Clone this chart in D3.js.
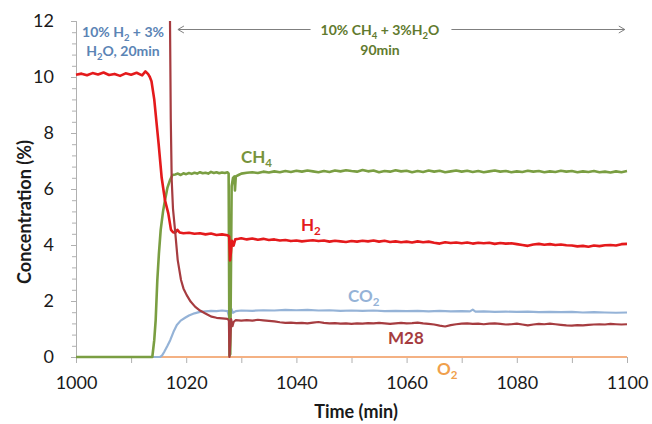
<!DOCTYPE html>
<html>
<head>
<meta charset="utf-8">
<script src="https://cdn.jsdelivr.net/npm/d3@7"></script>
<style>
  html, body { margin: 0; padding: 0; background: #fff; }
  svg { display: block; font-family: Lato, "Open Sans", sans-serif; }
</style>
</head>
<body>
<svg id="chart" width="652" height="424"></svg>
<script>
// ---------- data (time in min, concentration in %) ----------
const xTickValues = [1000, 1010, 1020, 1030, 1040, 1050, 1060, 1070, 1080, 1090, 1100];
const xTickLabels = ["1000", "", "1020", "", "1040", "", "1060", "", "1080", "", "1100"];
const yTickValues = [0, 2, 4, 6, 8, 10, 12];
const yTickLabels = ["0", "2", "4", "6", "8", "10", "12"];

const seriesH2 = [[1000,10.08],[1001,10.12],[1002,10.06],[1003,10.14],[1004,10.09],[1005,10.16],[1006,10.07],[1007,10.11],[1008,10.04],[1009,10.13],[1010,10.08],[1011,10.15],[1012,10.06],[1012.6,10.2],[1013.1,10.1],[1013.4,10.0],[1013.7,9.85],[1014.2,9.2],[1014.6,8.4],[1015,7.6],[1015.55,6.4],[1016.15,5.6],[1016.75,5.13],[1017.24,4.54],[1017.6,4.46],[1018,4.44],[1018.4,4.54],[1018.8,4.45],[1019.5,4.42],[1020.5,4.44],[1021.5,4.4],[1022.5,4.42],[1023.5,4.38],[1024.5,4.41],[1025.5,4.36],[1026.5,4.38],[1027.5,4.35],[1027.8,4.3],[1027.95,3.45],[1028.1,3.7],[1028.3,4.15],[1028.6,3.98],[1028.9,4.2],[1029.5,4.22],[1030,4.24],[1031,4.2],[1032,4.23],[1033,4.19],[1034,4.22],[1035,4.18],[1036,4.2],[1037,4.16],[1038,4.18],[1039,4.14],[1040,4.16],[1041,4.13],[1042,4.15],[1043,4.17],[1044,4.14],[1045,4.16],[1046,4.12],[1047,4.15],[1048,4.13],[1049,4.11],[1050,4.14],[1051,4.12],[1052,4.15],[1053,4.13],[1054,4.16],[1055,4.12],[1056,4.15],[1057,4.11],[1058,4.13],[1059,4.1],[1060,4.12],[1061,4.09],[1062,4.13],[1063,4.1],[1064,4.12],[1065,4.08],[1066,4.05],[1067,4.1],[1068,4.07],[1069,4.09],[1070,4.06],[1071,4.09],[1072,4.05],[1073,4.08],[1074,4.06],[1075,4.08],[1076,4.04],[1077,4.07],[1078,4.05],[1079,4.06],[1080,4.03],[1081,4.0],[1082,3.97],[1083,4.02],[1084,4.04],[1085,4.01],[1086,4.03],[1087,4.0],[1088,4.02],[1089,3.99],[1090,3.98],[1091,3.95],[1092,3.97],[1093,3.94],[1094,3.98],[1095,3.96],[1096,3.99],[1097,4.0],[1098,3.98],[1099,4.03],[1100,4.04]];

const seriesCH4 = [[1000,0],[1013.85,0],[1014.2,0.6],[1014.46,1.32],[1014.76,2.75],[1015.05,3.7],[1015.37,4.54],[1015.8,5.2],[1016.15,5.6],[1016.6,6.05],[1017.06,6.32],[1017.5,6.5],[1018,6.52],[1018.5,6.55],[1019,6.5],[1019.5,6.56],[1020,6.53],[1020.5,6.57],[1021,6.54],[1021.5,6.58],[1022,6.55],[1022.5,6.6],[1023,6.56],[1023.5,6.58],[1024,6.55],[1024.5,6.61],[1025,6.57],[1025.5,6.6],[1026,6.56],[1026.5,6.59],[1027,6.57],[1027.5,6.6],[1027.7,6.55],[1027.85,0.05],[1028.0,0.1],[1028.25,6.1],[1028.5,6.4],[1028.75,6.45],[1028.85,5.95],[1029.0,6.45],[1029.5,6.5],[1030,6.55],[1031,6.58],[1032,6.6],[1033,6.57],[1034,6.62],[1035,6.59],[1036,6.63],[1037,6.6],[1038,6.64],[1039,6.61],[1040,6.65],[1041,6.62],[1042,6.66],[1043,6.63],[1044,6.6],[1045,6.64],[1046,6.61],[1047,6.66],[1048,6.63],[1049,6.67],[1050,6.64],[1051,6.62],[1052,6.68],[1053,6.63],[1054,6.66],[1055,6.6],[1056,6.64],[1057,6.62],[1058,6.67],[1059,6.63],[1060,6.65],[1061,6.6],[1062,6.64],[1063,6.61],[1064,6.66],[1065,6.62],[1066,6.65],[1067,6.6],[1068,6.63],[1069,6.66],[1070,6.62],[1071,6.65],[1072,6.61],[1073,6.64],[1074,6.6],[1075,6.63],[1076,6.66],[1077,6.62],[1078,6.64],[1079,6.6],[1080,6.63],[1081,6.61],[1082,6.65],[1083,6.62],[1084,6.64],[1085,6.6],[1086,6.63],[1087,6.61],[1088,6.65],[1089,6.62],[1090,6.64],[1091,6.6],[1092,6.63],[1093,6.61],[1094,6.64],[1095,6.6],[1096,6.62],[1097,6.59],[1098,6.63],[1099,6.6],[1100,6.64]];

const seriesCO2 = [[1000,0],[1015.25,0],[1015.6,0.05],[1016,0.18],[1016.6,0.4],[1017.1,0.6],[1017.7,0.9],[1018.3,1.14],[1019,1.3],[1019.8,1.4],[1020.5,1.48],[1021.5,1.56],[1022.5,1.61],[1023.5,1.63],[1024.5,1.65],[1025.5,1.64],[1026.5,1.66],[1027.5,1.64],[1027.8,1.42],[1028.0,1.5],[1028.2,1.72],[1028.5,1.58],[1029,1.64],[1030,1.66],[1032,1.65],[1034,1.67],[1036,1.66],[1038,1.68],[1040,1.67],[1042,1.68],[1044,1.66],[1046,1.67],[1048,1.65],[1050,1.66],[1052,1.65],[1054,1.66],[1056,1.64],[1058,1.65],[1060,1.64],[1062,1.65],[1064,1.63],[1066,1.65],[1068,1.63],[1070,1.64],[1071.5,1.63],[1072,1.69],[1072.5,1.62],[1074,1.63],[1076,1.61],[1078,1.62],[1080,1.61],[1082,1.62],[1084,1.6],[1086,1.61],[1088,1.6],[1090,1.61],[1092,1.59],[1094,1.6],[1096,1.59],[1098,1.58],[1100,1.59]];

const seriesM28 = [[1000,16],[1016.9,16],[1017.06,12],[1017.2,8.5],[1017.37,6.32],[1017.6,5.3],[1017.97,4.54],[1018.46,3.46],[1019.06,2.75],[1019.5,2.45],[1020.09,2.21],[1020.8,1.98],[1021.6,1.8],[1022.5,1.66],[1023.4,1.56],[1024.6,1.44],[1025.5,1.4],[1026.5,1.38],[1027.5,1.36],[1027.75,1.3],[1027.85,0],[1028.0,0.5],[1028.15,1.35],[1028.4,1.1],[1028.6,1.25],[1029,1.32],[1030,1.3],[1031,1.32],[1032,1.3],[1033,1.33],[1034,1.31],[1035,1.29],[1036,1.27],[1037,1.24],[1038,1.22],[1039,1.23],[1040,1.21],[1041,1.22],[1042,1.2],[1043,1.23],[1044,1.25],[1045,1.22],[1046,1.2],[1047,1.21],[1048,1.19],[1049,1.2],[1050,1.18],[1051,1.2],[1052,1.19],[1053,1.21],[1054,1.2],[1055,1.22],[1056,1.2],[1057,1.18],[1058,1.2],[1059,1.22],[1060,1.2],[1061,1.21],[1062,1.23],[1063,1.2],[1064,1.18],[1065,1.16],[1066,1.12],[1067,1.09],[1068,1.14],[1069,1.17],[1070,1.19],[1071,1.2],[1072,1.18],[1073,1.19],[1074,1.17],[1075,1.19],[1076,1.2],[1077,1.18],[1078,1.16],[1079,1.17],[1080,1.19],[1081,1.16],[1082,1.13],[1083,1.16],[1084,1.18],[1085,1.17],[1086,1.19],[1087,1.17],[1088,1.15],[1089,1.13],[1090,1.12],[1091,1.14],[1092,1.13],[1093,1.15],[1094,1.16],[1095,1.17],[1096,1.16],[1097,1.18],[1098,1.17],[1099,1.16],[1100,1.17]];

const seriesO2 = [[1000,0],[1010,0],[1020,0],[1030,0],[1040,0],[1050,0],[1060,0],[1070,0],[1080,0],[1090,0],[1100,0]];

// ---------- layout ----------
const W = 652, H = 424;
const margin = {top: 21, right: 25, bottom: 67, left: 76};
const svg = d3.select("#chart");

const x = d3.scaleLinear().domain([1000, 1100]).range([margin.left, W - margin.right]);
const y = d3.scaleLinear().domain([0, 12]).range([H - margin.bottom, margin.top]);

const axisColor = "#b0b0b0";

// clip
svg.append("defs").append("clipPath").attr("id", "plotclip")
  .append("rect")
  .attr("x", x(1000) - 2).attr("y", y(12))
  .attr("width", x(1100) - x(1000) + 4).attr("height", y(0) - y(12) + 3);

// ---------- axes ----------
const yMinorVals = d3.range(0, 12.0001, 0.4).filter(v => Math.abs(v / 2 - Math.round(v / 2)) > 1e-6);
const yMinor = svg.append("g").attr("transform", `translate(${margin.left},0)`)
  .call(d3.axisLeft(y).tickValues(yMinorVals).tickSize(4).tickFormat(""));
const yMajor = svg.append("g").attr("transform", `translate(${margin.left},0)`)
  .call(d3.axisLeft(y).tickValues(yTickValues).tickSize(5).tickPadding(17)
    .tickFormat((d, i) => yTickLabels[i]));
[yMinor, yMajor].forEach(g => {
  g.select(".domain").attr("stroke", axisColor).attr("stroke-width", 1);
  g.selectAll(".tick line").attr("stroke", axisColor);
});
yMajor.selectAll(".tick text").attr("font-size", 18).attr("fill", "#1a1a1a")
  .attr("font-family", "Lato, sans-serif");

const xAxis = svg.append("g").attr("transform", `translate(0,${y(0)})`)
  .call(d3.axisBottom(x).tickValues(xTickValues).tickSize(6).tickPadding(13)
    .tickFormat((d, i) => xTickLabels[i]));
xAxis.select(".domain").attr("stroke", axisColor);
xAxis.selectAll(".tick line").attr("stroke", axisColor);
xAxis.selectAll(".tick text").attr("font-size", 18).attr("fill", "#1a1a1a")
  .attr("font-family", "Lato, sans-serif");

// ---------- lines ----------
const line = d3.line().x(d => x(d[0])).y(d => y(d[1]));
const plot = svg.append("g").attr("clip-path", "url(#plotclip)");
const series = [
  {data: seriesO2, color: "#f4b183", width: 2},
  {data: seriesCO2, color: "#95b3d7", width: 2.2},
  {data: seriesCH4, color: "#7a9e42", width: 2.6},
  {data: seriesH2, color: "#e41a1c", width: 2.6},
  {data: seriesM28, color: "#a63c40", width: 2.2}
];
series.forEach(s => {
  plot.append("path").datum(s.data)
    .attr("d", line).attr("fill", "none")
    .attr("stroke", s.color).attr("stroke-width", s.width)
    .attr("stroke-linejoin", "round");
});

// ---------- rich text helper (subscripts) ----------
function rich(parent, parts, attrs) {
  const t = parent.append("text");
  Object.entries(attrs).forEach(([k, v]) => t.attr(k, v));
  let shifted = false;
  parts.forEach(p => {
    const isSub = p.startsWith("_");
    const txt = isSub ? p.slice(1) : p;
    const ts = t.append("tspan").text(txt);
    if (isSub) {
      ts.attr("font-size", "68%").attr("dy", shifted ? 0 : 4);
      shifted = true;
    } else {
      if (shifted) ts.attr("dy", -4);
      shifted = false;
    }
  });
  return t;
}

// ---------- series labels ----------
const labelFont = {"font-family": "Lato, sans-serif", "font-weight": "bold", "font-size": 17};
rich(svg, ["CH", "_4"], {...labelFont, x: 241, y: 163, fill: "#77933c"});
rich(svg, ["H", "_2"], {...labelFont, x: 301, y: 231, fill: "#e41a1c"});
rich(svg, ["CO", "_2"], {...labelFont, x: 348, y: 302, fill: "#95b3d7"});
rich(svg, ["M28"], {...labelFont, x: 388, y: 344, fill: "#a63c40"});
rich(svg, ["O", "_2"], {...labelFont, x: 437, y: 375, fill: "#f0a04b"});

// ---------- annotations ----------
const annFont = {"font-family": "Lato, sans-serif", "font-weight": "bold", "font-size": 14, "text-anchor": "middle"};
rich(svg, ["10% H", "_2", " + 3%"], {...annFont, x: 123, y: 37, fill: "#5b84b5"});
rich(svg, ["H", "_2", "O, 20min"], {...annFont, x: 123, y: 56, fill: "#5b84b5"});

const greenAnn1 = rich(svg, ["10% CH", "_4", " + 3%H", "_2", "O"], {...annFont, x: 380, y: 35, fill: "#617a2e"});
rich(svg, ["90min"], {...annFont, x: 380, y: 55, fill: "#617a2e"});

// arrow spanning the CH4 period
const arrowY = 29.5;
const arrowL = x(1018.5), arrowR = x(1099.6);
const bb = greenAnn1.node().getBBox();
const arrowG = svg.append("g").attr("stroke", "#7f7f7f").attr("stroke-width", 1).attr("fill", "none");
arrowG.append("line").attr("x1", arrowL).attr("x2", bb.x - 10).attr("y1", arrowY).attr("y2", arrowY);
arrowG.append("line").attr("x1", bb.x + bb.width + 12).attr("x2", arrowR).attr("y1", arrowY).attr("y2", arrowY);
arrowG.append("path").attr("d", `M${arrowL + 6},${arrowY - 3.5}L${arrowL},${arrowY}L${arrowL + 6},${arrowY + 3.5}`);
arrowG.append("path").attr("d", `M${arrowR - 6},${arrowY - 3.5}L${arrowR},${arrowY}L${arrowR - 6},${arrowY + 3.5}`);

// ---------- axis titles ----------
svg.append("text")
  .attr("transform", `translate(31,${212}) rotate(-90)`)
  .attr("text-anchor", "middle")
  .attr("font-family", "Lato, sans-serif").attr("font-weight", "bold").attr("font-size", 18)
  .attr("fill", "#1a1a1a")
  .text("Concentration (%)");

svg.append("text")
  .attr("x", 356).attr("y", 418)
  .attr("text-anchor", "middle")
  .attr("font-family", "Lato, sans-serif").attr("font-weight", "bold").attr("font-size", 18)
  .attr("fill", "#1a1a1a")
  .text("Time (min)");
</script>
</body>
</html>
